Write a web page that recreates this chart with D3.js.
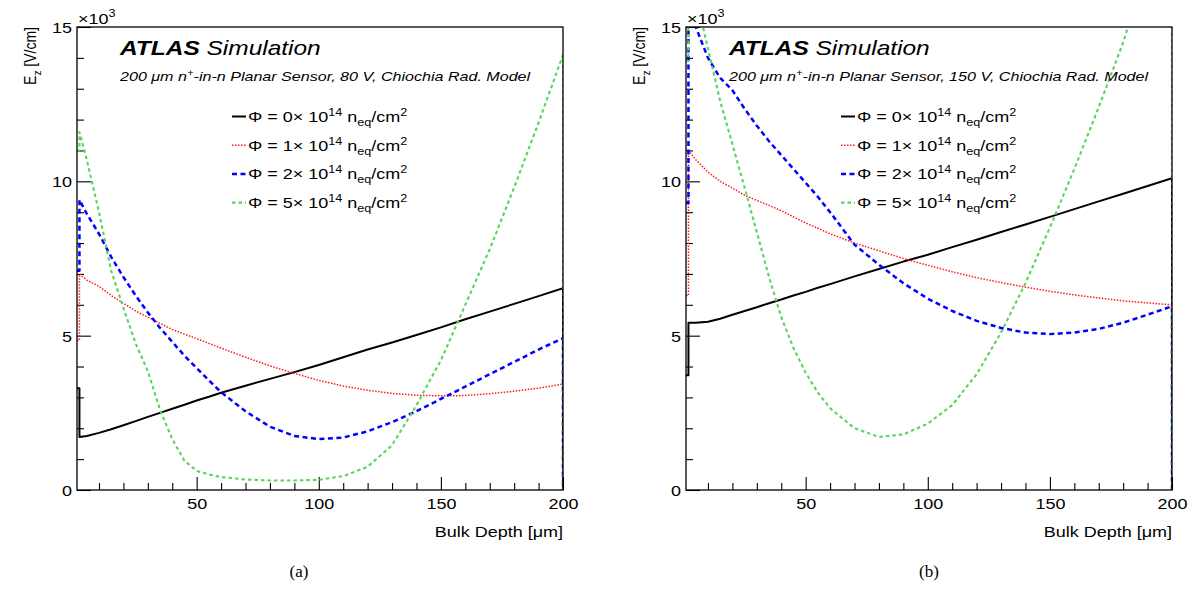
<!DOCTYPE html>
<html><head><meta charset="utf-8">
<script src="https://cdn.jsdelivr.net/npm/d3@7"></script>
<style>body{margin:0;background:#fff}svg{display:block}</style>
</head><body>
<svg id="c" width="1198" height="615"></svg>
<script>
// ---- data ----
const depth = [1, 2, 2, 5, 10, 15, 20, 25, 30, 35, 40, 45, 50, 55, 60, 70, 80, 90, 100, 110, 120, 130, 140, 150, 160, 170, 180, 190, 200, 200];

// (a) 80 V
const leftPhi0 = [3.3, 3.3, 1.72, 1.75, 1.85, 1.97, 2.1, 2.23, 2.37, 2.5, 2.63, 2.76, 2.9, 3.02, 3.15, 3.38, 3.6, 3.82, 4.05, 4.3, 4.55, 4.78, 5.02, 5.27, 5.53, 5.78, 6.03, 6.28, 6.54, 0];
const leftPhi1 = [4.85, 4.85, 7.0, 6.8, 6.6, 6.3, 6.05, 5.8, 5.6, 5.4, 5.2, 5.05, 4.9, 4.75, 4.6, 4.3, 4.02, 3.78, 3.55, 3.37, 3.23, 3.13, 3.07, 3.05, 3.06, 3.12, 3.2, 3.3, 3.43, 0];
const leftPhi2 = [7.1, 7.1, 9.4, 8.95, 8.3, 7.55, 6.9, 6.3, 5.75, 5.25, 4.8, 4.35, 3.95, 3.55, 3.17, 2.55, 2.05, 1.75, 1.65, 1.7, 1.9, 2.2, 2.55, 2.95, 3.35, 3.75, 4.15, 4.55, 4.92, 0];
const leftPhi5 = [11.0, 11.0, 11.6, 10.7, 9.0, 7.1, 5.9, 4.75, 3.85, 2.6, 1.65, 0.95, 0.62, 0.5, 0.42, 0.34, 0.31, 0.31, 0.33, 0.45, 0.75, 1.45, 2.75, 4.2, 6.0, 7.8, 9.8, 11.9, 14.1, 0];

// (b) 150 V
const rightPhi0 = [3.72, 3.72, 5.42, 5.42, 5.45, 5.55, 5.68, 5.8, 5.92, 6.05, 6.17, 6.3, 6.42, 6.55, 6.67, 6.92, 7.16, 7.4, 7.62, 7.87, 8.11, 8.36, 8.6, 8.85, 9.1, 9.35, 9.6, 9.85, 10.1, 0];
const rightPhi1 = [6.3, 6.3, 11.0, 10.7, 10.3, 10.0, 9.78, 9.55, 9.38, 9.22, 9.05, 8.85, 8.65, 8.48, 8.3, 8.0, 7.75, 7.5, 7.28, 7.07, 6.88, 6.72, 6.57, 6.44, 6.32, 6.22, 6.13, 6.06, 6.0, 0];
const rightPhi2 = [9.3, 9.3, 16.0, 15.0, 14.0, 13.35, 12.95, 12.35, 11.8, 11.3, 10.85, 10.4, 9.95, 9.5, 9.0, 7.95, 7.3, 6.7, 6.2, 5.8, 5.48, 5.25, 5.1, 5.05, 5.1, 5.22, 5.42, 5.68, 5.95, 0];
const rightPhi5 = [13.9, 13.9, 17, 16.0, 14.3, 12.6, 11.2, 9.8, 8.35, 6.9, 5.6, 4.6, 3.8, 3.15, 2.65, 2.0, 1.72, 1.8, 2.15, 2.75, 3.75, 5.1, 6.7, 8.5, 10.4, 12.4, 14.5, 17, 19, 0];

const fluences = ["0", "1", "2", "5"];
const voltages = ["80", "150"];
const panelLabels = ["(a)", "(b)"];
const xMajorTicks = [50, 100, 150, 200];
const xMinorTicks = [10, 20, 30, 40, 60, 70, 80, 90, 110, 120, 130, 140, 160, 170, 180, 190];
const yMajorTicks = [0, 5, 10, 15];
const yMinorTicks = [1, 2, 3, 4, 6, 7, 8, 9, 11, 12, 13, 14];

// ---- layout / style ----
const SX = 1.2;
const FONT = "'Liberation Sans', Arial, Helvetica, sans-serif";
const SERIF = "'Liberation Serif', 'Times New Roman', serif";
const yTop = 27, yBot = 490;
const styles = [
  {color: "#000000", width: 2.0, dash: null},
  {color: "#ff1a1a", width: 1.5, dash: "1.5,1.5"},
  {color: "#0000ff", width: 2.5, dash: "5,3.5"},
  {color: "#5ad45a", width: 2.1, dash: "3.5,3"}
];
const panels = [
  {x0: 77, x1: 563, labelShift: -21, series: [leftPhi0, leftPhi1, leftPhi2, leftPhi5]},
  {x0: 686, x1: 1172, labelShift: 0, series: [rightPhi0, rightPhi1, rightPhi2, rightPhi5]}
];

const svg = d3.select("#c").attr("font-family", FONT);
const defs = svg.append("defs");

function stext(parent, x, y, size, anchor) {
  return parent.append("text")
    .attr("transform", `translate(${x},${y}) scale(${SX},1)`)
    .attr("font-size", size)
    .attr("text-anchor", anchor || "start")
    .attr("fill", "#000");
}

panels.forEach((p, i) => {
  const x = d3.scaleLinear().domain([1, 200]).range([p.x0, p.x1]);
  const y = d3.scaleLinear().domain([0, 15]).range([yBot, yTop]);
  const g = svg.append("g");
  const cid = "clip" + i;
  defs.append("clipPath").attr("id", cid).append("rect")
    .attr("x", p.x0).attr("y", yTop).attr("width", p.x1 - p.x0).attr("height", yBot - yTop);

  // axes (ticks inward)
  const xMinor = g.append("g").attr("transform", `translate(0,${yBot})`)
    .call(d3.axisBottom(x).tickValues(xMinorTicks).tickSize(-7).tickSizeOuter(0).tickFormat(""));
  const xMajor = g.append("g").attr("transform", `translate(0,${yBot})`)
    .call(d3.axisBottom(x).tickValues(xMajorTicks).tickSize(-13).tickSizeOuter(0).tickPadding(8).tickFormat(d3.format("d")));
  const yMinor = g.append("g").attr("transform", `translate(${p.x0},0)`)
    .call(d3.axisLeft(y).tickValues(yMinorTicks).tickSize(-7).tickSizeOuter(0).tickFormat(""));
  const yMajor = g.append("g").attr("transform", `translate(${p.x0},0)`)
    .call(d3.axisLeft(y).tickValues(yMajorTicks).tickSize(-14).tickSizeOuter(0).tickPadding(5).tickFormat(d3.format("d")));
  [xMinor, xMajor, yMinor, yMajor].forEach(a => {
    a.select(".domain").remove();
    a.attr("font-family", FONT).attr("font-size", 15);
    a.selectAll("line").attr("stroke", "#000").attr("stroke-width", 1.1);
    a.selectAll("text").attr("fill", "#000").attr("transform", `scale(${SX},1)`);
  });
  yMajor.selectAll("text").attr("x", -5 / SX).attr("dy", "0.36em");

  // curves
  const line = d3.line().x((d, j) => x(depth[j])).y(d => y(d));
  p.series.forEach((s, k) => {
    const st = styles[k];
    g.append("path").attr("clip-path", `url(#${cid})`)
      .attr("d", line(s)).attr("fill", "none")
      .attr("stroke", st.color).attr("stroke-width", st.width)
      .attr("stroke-dasharray", st.dash).attr("stroke-linejoin", "round");
  });

  // frame
  g.append("rect").attr("x", p.x0).attr("y", yTop).attr("width", p.x1 - p.x0).attr("height", yBot - yTop)
    .attr("fill", "none").attr("stroke", "#000").attr("stroke-width", 1.3);

  // x10^3
  const ex = stext(g, p.x0 + 1, 24, 15);
  ex.append("tspan").text("×10");
  ex.append("tspan").attr("dy", -7).attr("font-size", 10.5).text("3");

  // y title
  const yt = g.append("text")
    .attr("transform", `translate(${p.x0 - 41},${yTop}) rotate(-90) scale(1,1.15)`)
    .attr("font-size", 14).attr("text-anchor", "end").attr("fill", "#000");
  yt.append("tspan").text("E");
  yt.append("tspan").attr("dy", 4).attr("font-size", 10).text("z");
  yt.append("tspan").attr("dy", -4).text(" [V/cm]");

  // x title
  const xt = stext(g, p.x1, 537, 15, "end");
  xt.append("tspan").text("Bulk Depth [μm]");

  // ATLAS label
  const at = stext(g, p.x0 + 43, 55, 20.4).attr("font-style", "italic");
  at.append("tspan").attr("font-weight", "bold").text("ATLAS");
  at.append("tspan").text(" Simulation");

  const sub = stext(g, p.x0 + 43, 81, 13.4).attr("font-style", "italic");
  sub.append("tspan").text("200 μm n");
  sub.append("tspan").attr("dy", -5).attr("font-size", 9.5).text("+");
  sub.append("tspan").attr("dy", 5).text(`-in-n Planar Sensor, ${voltages[i]} V, Chiochia Rad. Model`);

  // legend
  fluences.forEach((f, k) => {
    const cy = 116.5 + k * 28.7;
    const st = styles[k];
    g.append("line").attr("x1", p.x0 + 155).attr("x2", p.x0 + 169).attr("y1", cy).attr("y2", cy)
      .attr("stroke", st.color).attr("stroke-width", st.width).attr("stroke-dasharray", st.dash);
    const t = stext(g, p.x0 + 171, cy + 5.5, 15);
    t.append("tspan").text(`Φ = ${f}× 10`);
    t.append("tspan").attr("dy", -6).attr("font-size", 10.5).text("14");
    t.append("tspan").attr("dy", 6).text(" n");
    t.append("tspan").attr("dy", 4).attr("font-size", 10.5).text("eq");
    t.append("tspan").attr("dy", -4).text("/cm");
    t.append("tspan").attr("dy", -6).attr("font-size", 10.5).text("2");
  });

  // panel label
  svg.append("text").attr("x", (p.x0 + p.x1) / 2 + p.labelShift).attr("y", 577)
    .attr("font-family", SERIF).attr("font-size", 17).attr("text-anchor", "middle").text(panelLabels[i]);
});
</script>
</body></html>
